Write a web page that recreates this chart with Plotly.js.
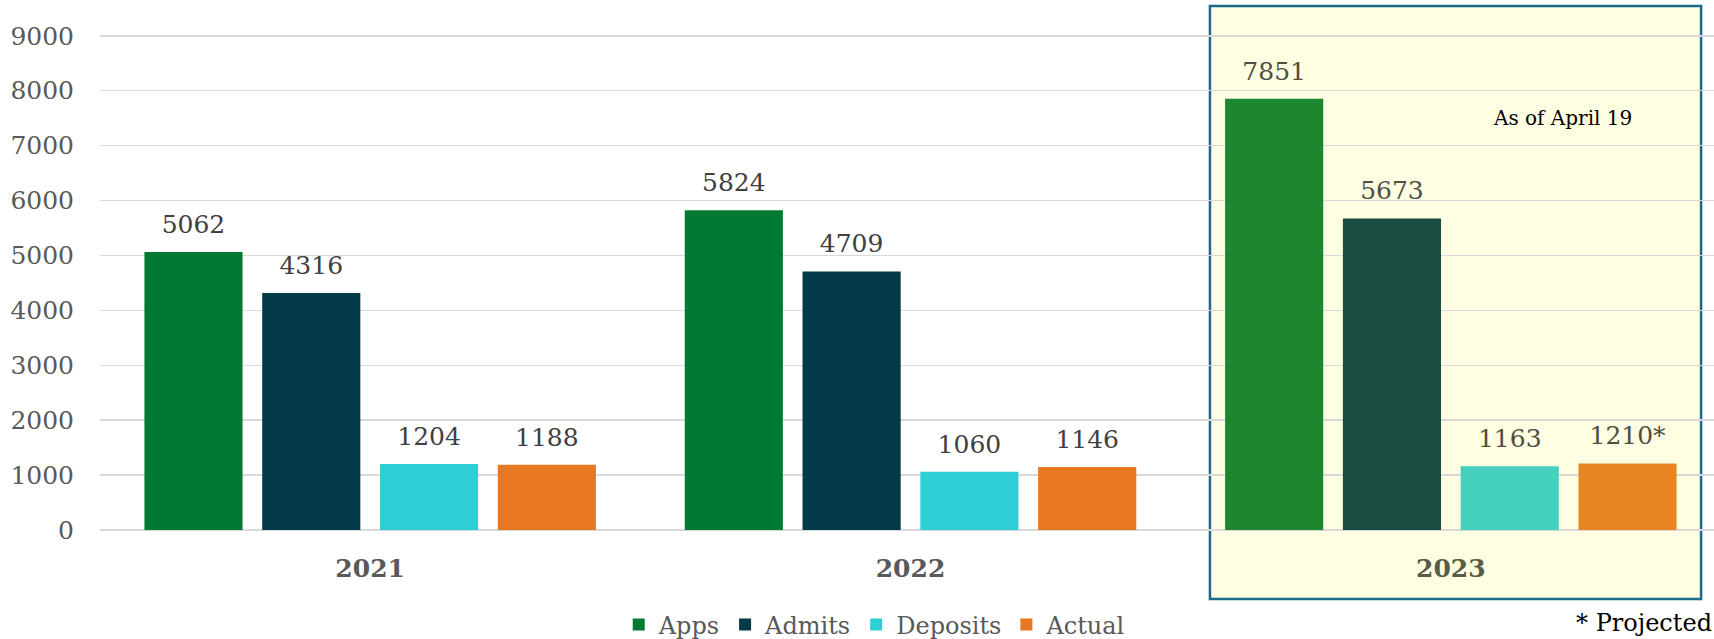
<!DOCTYPE html>
<html>
<head>
<meta charset="utf-8">
<script src="https://cdn.plot.ly/plotly-3.0.1.min.js"></script>
<style>html,body{margin:0;padding:0;background:#fff;}#chart{width:1714px;height:639px;}</style>
</head>
<body>
<div id="chart"></div>
<script>
const years = ['2021', '2022', '2023'];
const apps = [5062, 5824, 7851];
const admits = [4316, 4709, 5673];
const deposits = [1204, 1060, 1163];
const actual = [1188, 1146, 1210];
const projected = [false, false, true];
const seriesNames = ['Apps', 'Admits', 'Deposits', 'Actual'];
const noteText = 'As of April 19';
const footText = '* Projected';

const FONT = 'DejaVu Serif, Liberation Serif, serif';
const series = [apps, admits, deposits, actual];
const colors = [
  ['#007a33', '#007a33', '#1d8730'],
  ['#023a4a', '#023a4a', '#1c4d42'],
  ['#2dced4', '#2dced4', '#45d1be'],
  ['#e87722', '#e87722', '#e88522']
];
const labelColors = ['#404040', '#404040', '#4f4f40'];

const traces = [];
series.forEach((vals, i) => {
  traces.push({
    type: 'bar', name: seriesNames[i], x: years, y: vals,
    marker: {color: colors[i]}, hoverinfo: 'skip'
  });
});
series.forEach((vals, i) => {
  traces.push({
    type: 'scatter', mode: 'markers+text', showlegend: false, x: years, y: vals,
    marker: {size: 19, opacity: 0},
    text: vals.map((v, j) => (i === 3 && projected[j]) ? v + '*' : String(v)),
    textposition: 'top center',
    textfont: {family: FONT, size: 25, color: labelColors},
    cliponaxis: false, hoverinfo: 'skip'
  });
});

const layout = {
  width: 1714, height: 639,
  margin: {l: 100, r: 0, t: 33, b: 109},
  paper_bgcolor: '#ffffff', plot_bgcolor: 'rgba(0,0,0,0)',
  barmode: 'group', bargap: 0.128, bargroupgap: 0.167,
  scattermode: 'group', scattergap: 0.128,
  font: {family: FONT, size: 24, color: '#595959'},
  xaxis: {
    type: 'category', range: [-0.5, 2.487],
    tickvals: years, ticktext: years.map((y, j) => j === 2 ? '<b><span style="color:#5a5a48">' + y + '</span></b>' : '<b>' + y + '</b>'),
    tickfont: {family: FONT, size: 25, color: '#595959'},
    ticks: '', showgrid: false, zeroline: false, showline: false,
    ticklabelstandoff: 21
  },
  yaxis: {
    range: [0, 9050], dtick: 1000, tick0: 0,
    showgrid: true, gridcolor: '#d9d9d9', gridwidth: 1.5,
    zeroline: true, zerolinecolor: '#d9d9d9', zerolinewidth: 1.5,
    tickfont: {family: FONT, size: 25, color: '#595959'},
    ticks: '', showline: false, ticklabelstandoff: 25
  },
  showlegend: true,
  legend: {
    orientation: 'h', x: 0.48, xanchor: 'center',
    yref: 'container', y: 0.0219, yanchor: 'middle',
    font: {family: FONT, size: 24, color: '#595959'}, itemwidth: 30,
    traceorder: 'normal', bgcolor: 'rgba(0,0,0,0)', borderwidth: 0
  },
  shapes: [{
    type: 'rect', xref: 'paper', yref: 'paper',
    x0: 0.6877, x1: 0.992, y0: -0.139, y1: 1.0545,
    fillcolor: '#fefee3', line: {color: '#1a6a8a', width: 2.5}, layer: 'below'
  }],
  annotations: [
    {xref: 'paper', yref: 'paper', x: 0.906, y: 0.829, text: noteText, showarrow: false,
     xanchor: 'center', yanchor: 'middle', font: {family: FONT, size: 20, color: '#000000'}},
    {xref: 'paper', yref: 'paper', x: 1.0, y: -0.2193, text: footText, showarrow: false,
     xanchor: 'right', yanchor: 'bottom', font: {family: FONT, size: 24, color: '#000000'}}
  ]
};

Plotly.newPlot('chart', traces, layout, {displayModeBar: false, staticPlot: true});
</script>
</body>
</html>
